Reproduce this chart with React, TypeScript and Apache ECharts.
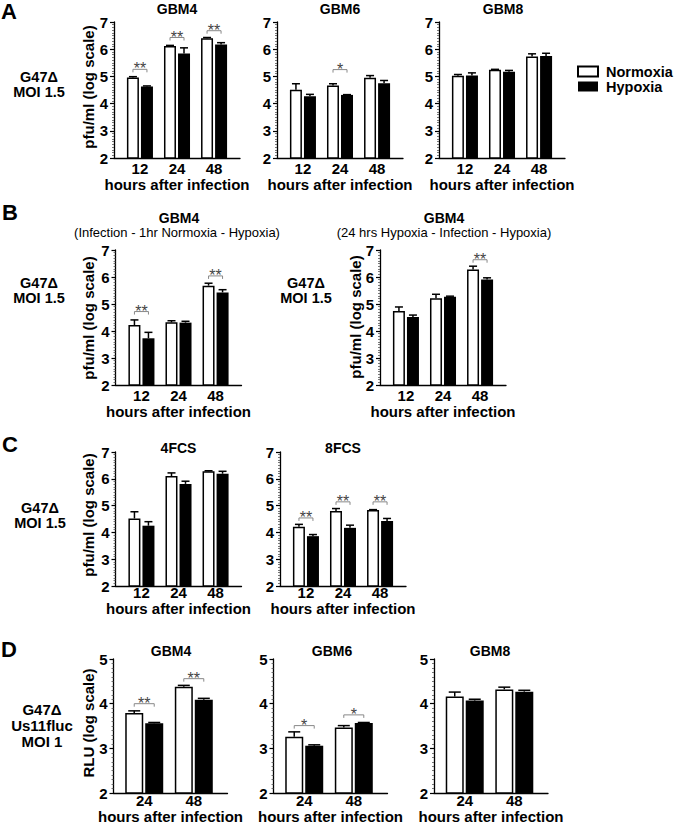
import React, { useEffect, useRef } from 'react';
import * as echarts from 'echarts';

const FONT = '"Liberation Sans", Arial, Helvetica, sans-serif';

// ---------- data ----------
const HOURS_3 = ['12', '24', '48'];
const HOURS_2 = ['24', '48'];
const PFU_MAX = 7;
const RLU_MAX = 5;
const Y_MIN = 2;
const SERIES_NAMES = ['Normoxia', 'Hypoxia'];

// Panel A
const A_GBM4_NORM = [4.96, 6.12, 6.4];
const A_GBM4_NORM_ERR = [0.03, 0.02, 0.03];
const A_GBM4_HYP = [4.63, 5.84, 6.17];
const A_GBM4_HYP_ERR = [0.02, 0.21, 0.07];
const A_GBM4_SIG = ['**', '**', '**'];
const A_GBM4_SIG_AT = [5.26, 6.43, 6.68];

const A_GBM6_NORM = [4.51, 4.67, 4.95];
const A_GBM6_NORM_ERR = [0.22, 0.06, 0.08];
const A_GBM6_HYP = [4.27, 4.32, 4.75];
const A_GBM6_HYP_ERR = [0.07, 0.01, 0.1];
const A_GBM6_SIG = ['', '*', ''];
const A_GBM6_SIG_AT = [0, 5.25, 0];

const A_GBM8_NORM = [5.02, 5.24, 5.73];
const A_GBM8_NORM_ERR = [0.05, 0.02, 0.1];
const A_GBM8_HYP = [5.03, 5.17, 5.75];
const A_GBM8_HYP_ERR = [0.1, 0.05, 0.1];

// Panel B
const B_PRE_NORM = [4.22, 4.32, 5.68];
const B_PRE_NORM_ERR = [0.19, 0.06, 0.09];
const B_PRE_HYP = [3.73, 4.31, 5.43];
const B_PRE_HYP_ERR = [0.22, 0.05, 0.1];
const B_PRE_SIG = ['**', '', '**'];
const B_PRE_SIG_AT = [4.72, 0, 6.04];

const B_HYP_NORM = [4.74, 5.21, 6.28];
const B_HYP_NORM_ERR = [0.15, 0.15, 0.12];
const B_HYP_HYP = [4.52, 5.27, 5.91];
const B_HYP_HYP_ERR = [0.07, 0.02, 0.06];
const B_HYP_SIG = ['', '', '**'];
const B_HYP_SIG_AT = [0, 0, 6.64];

// Panel C
const C_4FCS_NORM = [4.52, 6.1, 6.28];
const C_4FCS_NORM_ERR = [0.25, 0.12, 0.02];
const C_4FCS_HYP = [4.25, 5.81, 6.19];
const C_4FCS_HYP_ERR = [0.15, 0.1, 0.09];

const C_8FCS_NORM = [4.21, 4.8, 4.84];
const C_8FCS_NORM_ERR = [0.09, 0.09, 0.01];
const C_8FCS_HYP = [3.86, 4.17, 4.43];
const C_8FCS_HYP_ERR = [0.06, 0.1, 0.09];
const C_8FCS_SIG = ['**', '**', '**'];
const C_8FCS_SIG_AT = [4.54, 5.14, 5.14];

// Panel D
const D_GBM4_NORM = [3.79, 4.38];
const D_GBM4_NORM_ERR = [0.05, 0.03];
const D_GBM4_HYP = [3.56, 4.09];
const D_GBM4_HYP_ERR = [0.02, 0.03];
const D_GBM4_SIG = ['**', '**'];
const D_GBM4_SIG_AT = [4.0, 4.56];

const D_GBM6_NORM = [3.26, 3.47];
const D_GBM6_NORM_ERR = [0.11, 0.04];
const D_GBM6_HYP = [3.06, 3.57];
const D_GBM6_HYP_ERR = [0.02, 0.01];
const D_GBM6_SIG = ['*', '*'];
const D_GBM6_SIG_AT = [3.51, 3.75];

const D_GBM8_NORM = [4.16, 4.32];
const D_GBM8_NORM_ERR = [0.1, 0.05];
const D_GBM8_HYP = [4.07, 4.27];
const D_GBM8_HYP_ERR = [0.03, 0.03];

// ---------- layout ----------
interface PanelSpec {
  left: number; top: number; width: number; height: number;
  yMax: number; hours: string[]; xMin: number; xMax: number;
  norm: number[]; normErr: number[]; hyp: number[]; hypErr: number[];
  sig?: string[]; sigAt?: number[];
  barWidth: number; barGap: string; offset: number; cap: number;
  labelMargin: number; nameGap: number;
}

const W3 = 126;
const W2 = 114;
const three = { width: W3, hours: HOURS_3, xMin: -0.7, xMax: 2.7, barWidth: 12, barGap: '17%', offset: 7, cap: 4 };
const two = { width: W2, hours: HOURS_2, xMin: -0.62, xMax: 1.68, barWidth: 18, barGap: '11%', offset: 10, cap: 6 };

const PANELS: PanelSpec[] = [
  { ...three, left: 114, top: 22, height: 136, yMax: PFU_MAX, norm: A_GBM4_NORM, normErr: A_GBM4_NORM_ERR, hyp: A_GBM4_HYP, hypErr: A_GBM4_HYP_ERR, sig: A_GBM4_SIG, sigAt: A_GBM4_SIG_AT, labelMargin: 3, nameGap: 16.5 },
  { ...three, left: 277, top: 22, height: 136, yMax: PFU_MAX, norm: A_GBM6_NORM, normErr: A_GBM6_NORM_ERR, hyp: A_GBM6_HYP, hypErr: A_GBM6_HYP_ERR, sig: A_GBM6_SIG, sigAt: A_GBM6_SIG_AT, labelMargin: 3, nameGap: 16.5 },
  { ...three, left: 439, top: 22, height: 136, yMax: PFU_MAX, norm: A_GBM8_NORM, normErr: A_GBM8_NORM_ERR, hyp: A_GBM8_HYP, hypErr: A_GBM8_HYP_ERR, labelMargin: 3, nameGap: 16.5 },
  { ...three, left: 115.5, top: 250, height: 135, yMax: PFU_MAX, norm: B_PRE_NORM, normErr: B_PRE_NORM_ERR, hyp: B_PRE_HYP, hypErr: B_PRE_HYP_ERR, sig: B_PRE_SIG, sigAt: B_PRE_SIG_AT, labelMargin: 3, nameGap: 15 },
  { ...three, left: 380, top: 250, height: 135, yMax: PFU_MAX, norm: B_HYP_NORM, normErr: B_HYP_NORM_ERR, hyp: B_HYP_HYP, hypErr: B_HYP_HYP_ERR, sig: B_HYP_SIG, sigAt: B_HYP_SIG_AT, labelMargin: 3, nameGap: 15 },
  { ...three, left: 115.5, top: 452, height: 134, yMax: PFU_MAX, norm: C_4FCS_NORM, normErr: C_4FCS_NORM_ERR, hyp: C_4FCS_HYP, hypErr: C_4FCS_HYP_ERR, labelMargin: -1, nameGap: 9 },
  { ...three, left: 280, top: 452, height: 134, yMax: PFU_MAX, norm: C_8FCS_NORM, normErr: C_8FCS_NORM_ERR, hyp: C_8FCS_HYP, hypErr: C_8FCS_HYP_ERR, sig: C_8FCS_SIG, sigAt: C_8FCS_SIG_AT, labelMargin: -1, nameGap: 9 },
  { ...two, left: 113.5, top: 659, height: 135, yMax: RLU_MAX, norm: D_GBM4_NORM, normErr: D_GBM4_NORM_ERR, hyp: D_GBM4_HYP, hypErr: D_GBM4_HYP_ERR, sig: D_GBM4_SIG, sigAt: D_GBM4_SIG_AT, labelMargin: 0, nameGap: 14.5 },
  { ...two, left: 273.5, top: 659, height: 135, yMax: RLU_MAX, norm: D_GBM6_NORM, normErr: D_GBM6_NORM_ERR, hyp: D_GBM6_HYP, hypErr: D_GBM6_HYP_ERR, sig: D_GBM6_SIG, sigAt: D_GBM6_SIG_AT, labelMargin: 0, nameGap: 14.5 },
  { ...two, left: 434, top: 659, height: 135, yMax: RLU_MAX, norm: D_GBM8_NORM, normErr: D_GBM8_NORM_ERR, hyp: D_GBM8_HYP, hypErr: D_GBM8_HYP_ERR, labelMargin: 0, nameGap: 14.5 },
];

const boldText = (text: string, x: number, y: number, fontSize = 15, extra: any = {}, lineHeight?: number) => ({
  type: 'text', x, y, ...extra,
  style: { text, fontSize, fontWeight: 'bold', fontFamily: FONT, fill: '#000', align: 'center', verticalAlign: 'middle', ...(lineHeight ? { lineHeight } : {}) },
});
const plainText = (text: string, x: number, y: number, fontSize = 13) => ({
  type: 'text', x, y,
  style: { text, fontSize, fontWeight: 'normal', fontFamily: FONT, fill: '#000', align: 'center', verticalAlign: 'middle' },
});
const rotText = (text: string, x: number, y: number) => boldText(text, x, y, 15, { rotation: Math.PI / 2 });

const GRAPHICS = [
  boldText('A', 9, 11, 22), boldText('B', 10, 212, 22), boldText('C', 10, 444, 22), boldText('D', 9, 649, 22),
  boldText('GBM4', 177, 9, 14), boldText('GBM6', 340, 9, 14), boldText('GBM8', 503, 9, 14),
  boldText('GBM4', 179, 218, 14), plainText('(Infection - 1hr Normoxia - Hypoxia)', 177, 232),
  boldText('GBM4', 444, 218, 14), plainText('(24 hrs Hypoxia - Infection - Hypoxia)', 444, 232),
  boldText('4FCS', 178.5, 447.5, 14), boldText('8FCS', 343, 447.5, 14),
  boldText('GBM4', 171, 651, 14), boldText('GBM6', 332, 651, 14), boldText('GBM8', 490, 651, 14),
  rotText('pfu/ml (log scale)', 88, 87), rotText('pfu/ml (log scale)', 88, 318), rotText('pfu/ml (log scale)', 355, 317),
  rotText('pfu/ml (log scale)', 88, 515), rotText('RLU (log scale)', 88, 723),
  boldText('G47Δ\nMOI 1.5', 39, 84, 14.5, {}, 15),
  boldText('G47Δ\nMOI 1.5', 39, 290.5, 14.5, {}, 15),
  boldText('G47Δ\nMOI 1.5', 306, 290.5, 14.5, {}, 15),
  boldText('G47Δ\nMOI 1.5', 40, 515, 14.5, {}, 15),
  boldText('G47Δ\nUs11fluc\nMOI 1', 42, 725, 15, {}, 16),
];

function buildOption() {
  const grid: any[] = [];
  const xAxis: any[] = [];
  const yAxis: any[] = [];
  const series: any[] = [];
  PANELS.forEach((p, i) => {
    grid.push({ left: p.left, top: p.top, width: p.width, height: p.height, containLabel: false });
    xAxis.push({
      gridIndex: i, type: 'value', min: p.xMin, max: p.xMax,
      axisLine: { show: true, onZero: false, lineStyle: { color: '#000', width: 1.3 } },
      axisTick: { show: false }, splitLine: { show: false },
      axisLabel: {
        customValues: p.hours.map((_, k) => k),
        formatter: (v: number) => p.hours[Math.round(v)] ?? '',
        fontSize: 15, fontWeight: 'bold', color: '#000', fontFamily: FONT, margin: p.labelMargin,
      },
      name: 'hours after infection', nameLocation: 'middle', nameGap: p.nameGap,
      nameTextStyle: { fontSize: 15, fontWeight: 'bold', color: '#000', fontFamily: FONT },
    });
    yAxis.push({
      gridIndex: i, type: 'value', min: Y_MIN, max: p.yMax, interval: 1,
      axisLine: { show: true, onZero: false, lineStyle: { color: '#000', width: 1.3 } },
      axisTick: { show: true, length: 4, lineStyle: { color: '#000', width: 1.2 } },
      minorTick: { show: true, splitNumber: 10, length: 2, lineStyle: { color: '#555', width: 0.8 } },
      splitLine: { show: false }, minorSplitLine: { show: false },
      axisLabel: { fontSize: 15, fontWeight: 'bold', color: '#000', fontFamily: FONT, margin: 6 },
    });
    series.push({
      type: 'bar', name: SERIES_NAMES[0], xAxisIndex: i, yAxisIndex: i,
      data: p.norm.map((v, k) => [k, v]), barWidth: p.barWidth, barGap: p.barGap,
      itemStyle: { color: '#fff', borderColor: '#000', borderWidth: 1.5 },
    });
    series.push({
      type: 'bar', name: SERIES_NAMES[1], xAxisIndex: i, yAxisIndex: i,
      data: p.hyp.map((v, k) => [k, v]), barWidth: p.barWidth, barGap: p.barGap,
      itemStyle: { color: '#000', borderColor: '#000', borderWidth: 0 },
    });
    const errRows = [
      ...p.norm.map((v, k) => [k, v, p.normErr[k], -1]),
      ...p.hyp.map((v, k) => [k, v, p.hypErr[k], 1]),
    ];
    series.push({
      type: 'custom', xAxisIndex: i, yAxisIndex: i, z: 5, silent: true,
      data: errRows,
      renderItem: (_params: any, api: any) => {
        const x = api.value(0), y = api.value(1), e = api.value(2), side = api.value(3);
        const base = api.coord([x, y]);
        const top = api.coord([x, y + e]);
        const cx = base[0] + side * p.offset;
        return {
          type: 'group',
          children: [
            { type: 'line', shape: { x1: cx, y1: base[1], x2: cx, y2: top[1] }, style: { stroke: '#000', lineWidth: 1.5 } },
            { type: 'line', shape: { x1: cx - p.cap, y1: top[1], x2: cx + p.cap, y2: top[1] }, style: { stroke: '#000', lineWidth: 1.5 } },
          ],
        };
      },
    });
    if (p.sig && p.sigAt) {
      const rows = p.sig.map((s, k) => ({ s, k, h: p.sigAt![k] })).filter((r) => r.s);
      series.push({
        type: 'custom', xAxisIndex: i, yAxisIndex: i, z: 6, silent: true,
        data: rows.map((r) => [r.k, r.h]),
        renderItem: (params: any, api: any) => {
          const c = api.coord([api.value(0), api.value(1)]);
          const x1 = c[0] - p.offset, x2 = c[0] + p.offset, y = c[1];
          return {
            type: 'group',
            children: [
              { type: 'polyline', shape: { points: [[x1, y + 3], [x1, y], [x2, y], [x2, y + 3]] }, style: { stroke: '#888', lineWidth: 1, fill: 'none' } },
              { type: 'text', x: c[0], y: y - 0.5, style: { text: rows[params.dataIndex].s, fontSize: 16, fontFamily: FONT, fill: '#444', align: 'center', verticalAlign: 'middle' } },
            ],
          };
        },
      });
    }
  });
  return {
    animation: false,
    backgroundColor: '#fff',
    textStyle: { fontFamily: FONT },
    legend: {
      data: SERIES_NAMES, orient: 'vertical', left: 577, top: 64, padding: 0,
      itemWidth: 20, itemHeight: 10, itemGap: 0, icon: 'rect', selectedMode: false,
      textStyle: { fontSize: 14.5, fontWeight: 'bold', color: '#000', fontFamily: FONT, padding: [0, 0, 0, 3] },
    },
    grid, xAxis, yAxis, series,
    graphic: GRAPHICS,
  };
}

export default function App() {
  const ref = useRef<HTMLDivElement>(null);
  useEffect(() => {
    const chart = echarts.init(ref.current!, null, { renderer: 'svg' });
    chart.setOption(buildOption() as any);
    return () => chart.dispose();
  }, []);
  return (
    <div
      ref={ref}
      style={{ position: 'absolute', left: 0, top: 0, width: 675, height: 825, background: '#fff' }}
    />
  );
}
